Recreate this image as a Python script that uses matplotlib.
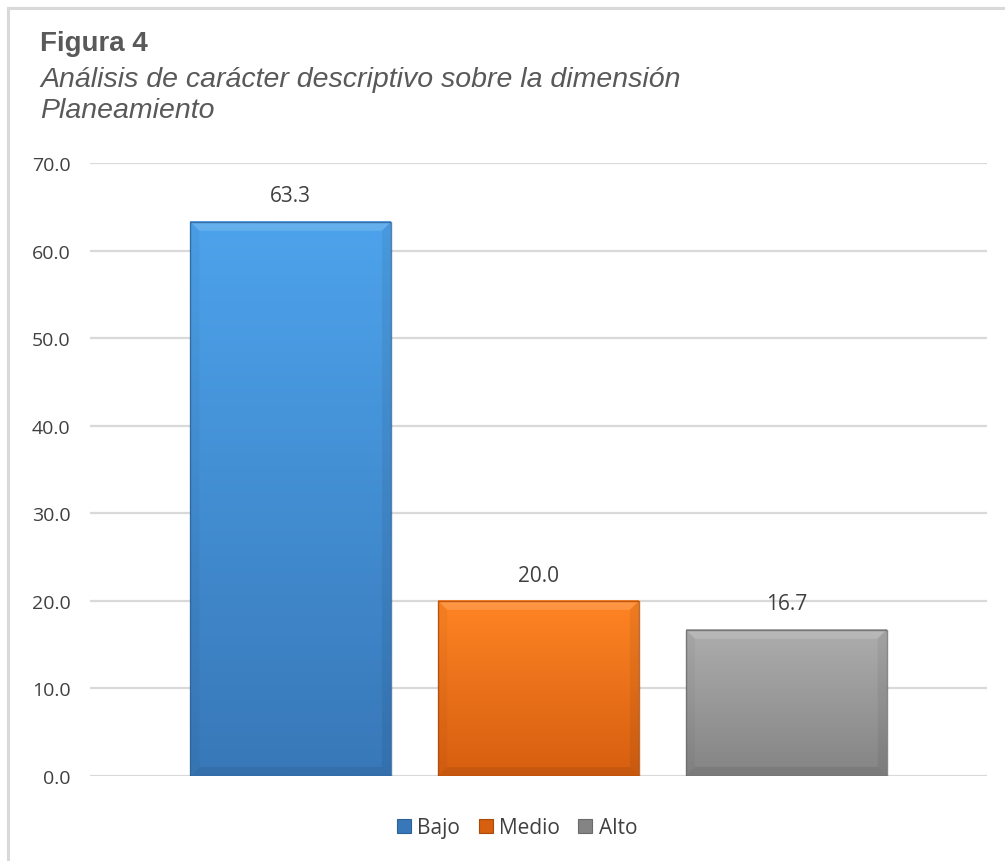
import numpy as np
import matplotlib.pyplot as plt
from matplotlib.patches import Rectangle, Polygon
from matplotlib.colors import LinearSegmentedColormap

categories = ['Bajo', 'Medio', 'Alto']
values = [63.3, 20.0, 16.7]
labels = ['63.3', '20.0', '16.7']
yticks = [0, 10, 20, 30, 40, 50, 60, 70]

# top / bottom colours of each bar gradient
top_colors = ['#4DA3EC', '#FF8424', '#ADADAD']
bottom_colors = ['#3878B8', '#D65F10', '#848484']
edge_colors = ['#2E6296', '#A84A0C', '#6A6A6A']

W, H = 1005, 862
fig = plt.figure(figsize=(W / 100, H / 100), dpi=100)
fig.patch.set_facecolor('white')

# outer chart frame (runs off right and bottom)
fig.add_artist(Rectangle((7.5 / W, -0.05), 1.1, 1 - 9 / H + 0.05, transform=fig.transFigure,
                         fill=False, edgecolor='#D9D9D9', linewidth=2.2))

title_font = ['Liberation Sans', 'DejaVu Sans']
fig.text(40 / W, 1 - 51 / H, 'Figura 4', fontsize=20, fontweight='bold', color='#595959',
         family=title_font)
fig.text(40 / W, 1 - 87 / H, 'Análisis de carácter descriptivo sobre la dimensión',
         fontsize=20.5, style='italic', color='#595959', family=title_font)
fig.text(40 / W, 1 - 118 / H, 'Planeamiento',
         fontsize=20.5, style='italic', color='#595959', family=title_font)

body_font = ['Open Sans', 'DejaVu Sans']
ax = fig.add_axes([90 / W, 1 - 777 / H, (987 - 90) / W, (777 - 164) / H])
x = np.arange(len(categories))
width = 0.81
bars = ax.bar(x, values, width=width, color='none', edgecolor='none', zorder=2)

ax.set_yticks(yticks)
ax.set_yticklabels([f'{t:.1f}' for t in yticks], fontsize=14, color='#404040',
                   family=body_font)
ax.set_xticks([])
ax.tick_params(axis='y', length=0, pad=14)
for s in ax.spines.values():
    s.set_visible(False)
ax.grid(axis='y', color='#D9D9D9', linewidth=1.6, zorder=0)
ax.set_axisbelow(True)

bx = 9 / 248      # bevel width in data units (x)
by = 9 / 8.76     # bevel height in data units (y)
for i, b in enumerate(bars):
    x0, w, h = b.get_x(), b.get_width(), b.get_height()
    cmap = LinearSegmentedColormap.from_list('g', [bottom_colors[i], top_colors[i]])
    grad = np.linspace(0, 1, 256).reshape(-1, 1)
    ax.imshow(grad, cmap=cmap, origin='lower', aspect='auto',
              extent=(x0, x0 + w, 0, h), zorder=2, interpolation='bilinear')
    # bevel: lighter top, darker sides and bottom
    ax.add_patch(Polygon([(x0, h), (x0 + w, h), (x0 + w - bx, h - by), (x0 + bx, h - by)],
                         closed=True, facecolor='white', alpha=0.15, edgecolor='none', zorder=3))
    ax.add_patch(Polygon([(x0, 0), (x0 + bx, by), (x0 + bx, h - by), (x0, h)],
                         closed=True, facecolor='black', alpha=0.03, edgecolor='none', zorder=3))
    ax.add_patch(Polygon([(x0 + w, 0), (x0 + w - bx, by), (x0 + w - bx, h - by), (x0 + w, h)],
                         closed=True, facecolor='black', alpha=0.06, edgecolor='none', zorder=3))
    ax.add_patch(Polygon([(x0, 0), (x0 + w, 0), (x0 + w - bx, by), (x0 + bx, by)],
                         closed=True, facecolor='black', alpha=0.07, edgecolor='none', zorder=3))
    ax.add_patch(Rectangle((x0, 0), w, h, fill=False, edgecolor=edge_colors[i],
                           linewidth=1.0, alpha=0.8, zorder=4))
    ax.annotate(labels[i], (x[i], h), xytext=(0, 11), textcoords='offset points',
                ha='center', va='bottom', fontsize=15, color='#404040',
                family=body_font)

ax.set_aspect('auto')
ax.set_xlim(-0.81, 2.81)
ax.set_ylim(0, 70)

# legend
handles = [Rectangle((0, 0), 1, 1, facecolor=bottom_colors[i], edgecolor=edge_colors[i], linewidth=0.8)
           for i in range(len(categories))]
fig.legend(handles, categories, loc='center', bbox_to_anchor=(517 / W, 1 - 829 / H), ncol=3,
           frameon=False, handlelength=0.67, handleheight=0.67, handletextpad=0.3,
           columnspacing=0.9, prop={'family': body_font, 'size': 15},
           labelcolor='#404040')

fig.savefig('out.png', dpi=100)
